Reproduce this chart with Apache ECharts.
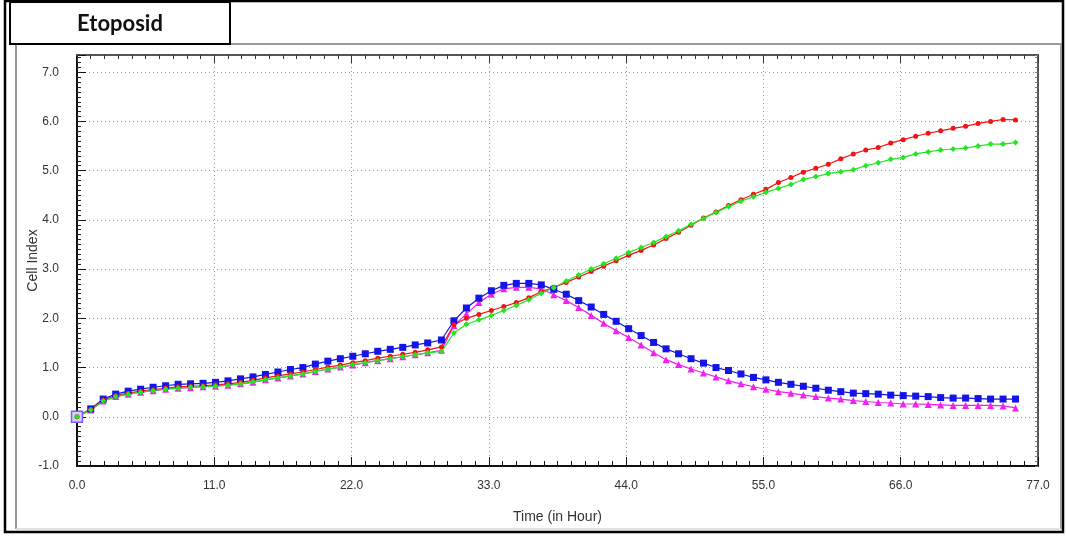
<!DOCTYPE html>
<html>
<head>
<meta charset="utf-8">
<title>Etoposid</title>
<script src="https://cdn.jsdelivr.net/npm/echarts@6/dist/echarts.min.js"></script>
<style>
  html, body { margin: 0; padding: 0; background: #fff; }
  #content { width: 1066px; height: 538px; }
</style>
</head>
<body>
<div id="content"></div>
<script>
// time points (hours) - drug added around 29.5 h
const hours = [0, 1.1, 2.1, 3.1, 4.1, 5.1, 6.1, 7.1, 8.1, 9.1,
  10.1, 11.1, 12.1, 13.1, 14.1, 15.1, 16.1, 17.1, 18.1, 19.1,
  20.1, 21.1, 22.1, 23.1, 24.1, 25.1, 26.1, 27.1, 28.1, 29.2,
  30.2, 31.2, 32.2, 33.2, 34.2, 35.2, 36.2, 37.2, 38.2, 39.2,
  40.2, 41.2, 42.2, 43.2, 44.2, 45.2, 46.2, 47.2, 48.2, 49.2,
  50.2, 51.2, 52.2, 53.2, 54.2, 55.2, 56.2, 57.2, 58.2, 59.2,
  60.2, 61.2, 62.2, 63.2, 64.2, 65.2, 66.2, 67.2, 68.2, 69.2,
  70.2, 71.2, 72.2, 73.2, 74.2, 75.2]

// cell index per curve
const blueIdx = [0.0, 0.16, 0.36, 0.46, 0.52, 0.56, 0.60, 0.63, 0.66, 0.67,
  0.68, 0.70, 0.73, 0.77, 0.81, 0.86, 0.91, 0.96, 1.00, 1.07,
  1.13, 1.18, 1.23, 1.28, 1.33, 1.37, 1.41, 1.46, 1.50, 1.56,
  1.95, 2.21, 2.41, 2.56, 2.67, 2.71, 2.71, 2.68, 2.59, 2.49,
  2.36, 2.23, 2.08, 1.94, 1.79, 1.65, 1.51, 1.38, 1.28, 1.18,
  1.09, 1.00, 0.94, 0.87, 0.80, 0.75, 0.70, 0.66, 0.62, 0.58,
  0.54, 0.51, 0.48, 0.47, 0.46, 0.44, 0.43, 0.42, 0.41, 0.39,
  0.38, 0.38, 0.37, 0.36, 0.36, 0.36]

const magentaIdx = [0.0, 0.14, 0.32, 0.41, 0.46, 0.50, 0.53, 0.56, 0.58, 0.59,
  0.61, 0.62, 0.64, 0.67, 0.70, 0.75, 0.79, 0.83, 0.87, 0.92,
  0.97, 1.01, 1.05, 1.10, 1.14, 1.18, 1.22, 1.26, 1.30, 1.35,
  1.85, 2.09, 2.32, 2.49, 2.60, 2.63, 2.63, 2.60, 2.48, 2.36,
  2.22, 2.06, 1.90, 1.75, 1.61, 1.46, 1.30, 1.16, 1.06, 0.97,
  0.89, 0.81, 0.73, 0.67, 0.61, 0.56, 0.51, 0.48, 0.44, 0.41,
  0.38, 0.36, 0.33, 0.31, 0.29, 0.28, 0.26, 0.26, 0.25, 0.24,
  0.23, 0.23, 0.23, 0.23, 0.22, 0.18]

const redIdx = [0.0, 0.15, 0.34, 0.43, 0.48, 0.52, 0.55, 0.58, 0.61, 0.62,
  0.63, 0.65, 0.67, 0.70, 0.74, 0.79, 0.83, 0.87, 0.91, 0.96,
  1.01, 1.05, 1.10, 1.14, 1.19, 1.23, 1.27, 1.31, 1.36, 1.42,
  1.87, 2.00, 2.08, 2.16, 2.24, 2.32, 2.42, 2.54, 2.63, 2.73,
  2.84, 2.95, 3.06, 3.17, 3.28, 3.38, 3.49, 3.62, 3.75, 3.89,
  4.04, 4.16, 4.29, 4.41, 4.52, 4.62, 4.76, 4.86, 4.97, 5.05,
  5.13, 5.24, 5.34, 5.42, 5.47, 5.56, 5.63, 5.70, 5.76, 5.81,
  5.86, 5.90, 5.96, 6.00, 6.04, 6.03]

const greenIdx = [0.0, 0.14, 0.32, 0.41, 0.46, 0.50, 0.53, 0.56, 0.58, 0.60,
  0.61, 0.62, 0.64, 0.67, 0.71, 0.75, 0.79, 0.83, 0.87, 0.92,
  0.97, 1.01, 1.06, 1.10, 1.14, 1.18, 1.22, 1.26, 1.30, 1.33,
  1.70, 1.88, 1.97, 2.06, 2.16, 2.26, 2.38, 2.51, 2.62, 2.76,
  2.88, 3.00, 3.11, 3.22, 3.34, 3.44, 3.54, 3.66, 3.78, 3.91,
  4.03, 4.15, 4.27, 4.38, 4.47, 4.56, 4.64, 4.72, 4.82, 4.88,
  4.94, 4.98, 5.02, 5.10, 5.16, 5.23, 5.27, 5.34, 5.38, 5.42,
  5.44, 5.46, 5.50, 5.54, 5.54, 5.57]

const xTicks = [0, 11, 22, 33, 44, 55, 66, 77]
const yTicks = [-1, 0, 1, 2, 3, 4, 5, 6, 7]

const pairs = (vals) => hours.map((h, i) => [h, vals[i]])

const labelFont = { fontFamily: 'Liberation Sans, Arial, sans-serif', fontSize: 12, color: '#333' }

const makeLine = (name, vals, color, symbol, size) => ({
  name: name,
  type: 'line',
  data: pairs(vals),
  symbol: symbol,
  symbolSize: size,
  lineStyle: { color: color, width: 1.2 },
  itemStyle: { color: color },
  emphasis: { disabled: true }
})

var chart = echarts.init(document.getElementById('content'), null, { renderer: 'canvas' })

const blueSeries = makeLine('blue', blueIdx, '#1414e6', 'rect', 7)
// the normalisation point at t=0 is drawn as a bigger pale square
blueSeries.data[0] = {
  value: blueSeries.data[0],
  symbolSize: 11,
  itemStyle: { color: '#e2c8ff', borderColor: '#7060ff', borderWidth: 1.5 }
}

const option = {
  animation: false,
  backgroundColor: '#fff',
  grid: { left: 77, right: 28, top: 55, bottom: 72 },
  xAxis: [
    {
      type: 'value',
      min: xTicks[0],
      max: xTicks[xTicks.length - 1],
      interval: 11,
      name: 'Time (in Hour)',
      nameLocation: 'middle',
      nameGap: 44,
      nameTextStyle: Object.assign({}, labelFont, { fontSize: 14 }),
      axisLine: { show: true, onZero: false, lineStyle: { color: '#111', width: 2 } },
      axisTick: { show: true, inside: true, length: 9, lineStyle: { color: '#111' } },
      minorTick: { show: true, splitNumber: 10, length: 5, lineStyle: { color: '#111' } },
      axisLabel: Object.assign({}, labelFont, { margin: 14, formatter: (v) => v.toFixed(1) }),
      splitLine: { show: true, lineStyle: { color: '#999', type: [1, 3], width: 1 } }
    },
    {
      type: 'value',
      position: 'top',
      min: 0,
      max: 77,
      interval: 11,
      axisLine: { show: true, onZero: false, lineStyle: { color: '#555', width: 2 } },
      axisTick: { show: true, inside: true, length: 8, lineStyle: { color: '#333' } },
      minorTick: { show: true, splitNumber: 10, length: 4, lineStyle: { color: '#333' } },
      axisLabel: { show: false },
      splitLine: { show: false }
    }
  ],
  yAxis: [
    {
      type: 'value',
      min: yTicks[0],
      max: 7.35,
      interval: 1,
      name: 'Cell Index',
      nameLocation: 'middle',
      nameGap: 37,
      nameMoveOverlap: false,
      nameTextStyle: Object.assign({}, labelFont, { fontSize: 14 }),
      axisLine: { show: true, onZero: false, lineStyle: { color: '#111', width: 2 } },
      axisTick: { show: true, inside: true, length: 9, lineStyle: { color: '#111' } },
      axisLabel: Object.assign({}, labelFont, {
        margin: 18,
        formatter: (v) => (yTicks.indexOf(v) >= 0 ? v.toFixed(1) : '')
      }),
      splitLine: { show: true, lineStyle: { color: '#999', type: [1, 3], width: 1 } }
    },
    {
      // minor ticks on the left border
      type: 'value',
      position: 'left',
      min: -1,
      max: 7.35,
      interval: 0.1,
      axisLine: { show: false },
      axisTick: { show: true, inside: true, length: 4, lineStyle: { color: '#222' } },
      axisLabel: { show: false },
      splitLine: { show: false }
    },
    {
      // right border
      type: 'value',
      position: 'right',
      min: -1,
      max: 7.35,
      interval: 0.1,
      axisLine: { show: true, onZero: false, lineStyle: { color: '#555', width: 2 } },
      axisTick: { show: true, inside: true, length: 3, lineStyle: { color: '#777' } },
      axisLabel: { show: false },
      splitLine: { show: false }
    }
  ],
  series: [
    makeLine('magenta', magentaIdx, '#f020f0', 'triangle', 7),
    blueSeries,
    makeLine('red', redIdx, '#f01414', 'circle', 5),
    makeLine('green', greenIdx, '#22e622', 'diamond', 6)
  ],
  graphic: [
    // outer black frame
    { type: 'rect', shape: { x: 5, y: 1, width: 1058, height: 531 }, style: { fill: 'none', stroke: '#000', lineWidth: 2.5 }, z: 1 },
    // inner grey panel frame
    { type: 'polyline', shape: { points: [[16, 529], [16, 44], [1061, 44], [1061, 529]] }, style: { fill: 'none', stroke: '#9a9a9a', lineWidth: 2 }, z: 1 },
    { type: 'line', shape: { x1: 16, y1: 529, x2: 1061, y2: 529 }, style: { stroke: '#d8d8d8', lineWidth: 1.5 }, z: 1 },
    // title box
    { type: 'rect', shape: { x: 10, y: 2, width: 220, height: 42 }, style: { fill: '#fff', stroke: '#000', lineWidth: 2 }, z: 2 },
    {
      type: 'text', x: 120, y: 24, z: 3,
      style: { text: 'Etoposid', fill: '#111', font: 'bold 22px Lato, "Open Sans", sans-serif', align: 'center', verticalAlign: 'middle' }
    }
  ]
}

chart.setOption(option)
</script>
</body>
</html>
